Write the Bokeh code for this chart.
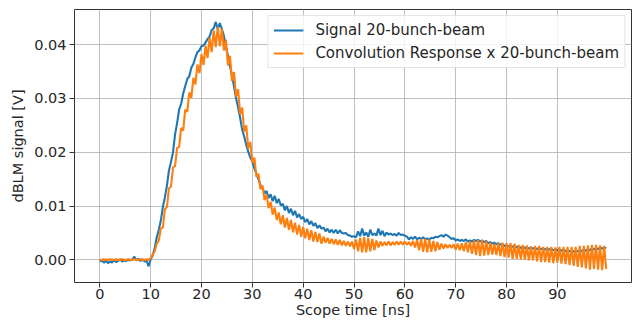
import numpy as np
from bokeh.plotting import figure
from bokeh.models import Range1d, FixedTicker, NumeralTickFormatter, Legend, LegendItem
from bokeh.embed import file_html
from bokeh.resources import INLINE

# ---- data ----
t_start_ns = 0.0
t_step_ns = 0.4   # scope sampling grid used for the readings

# Signal 20-bunch-beam, in mV (one row = 4 ns)
signal_mV = [
    -0.3, -0.1, -0.5, -0.2, -0.6, -0.3, -0.5, -0.1, -0.4, -0.2,
    0.1, -0.3, -0.1, -0.2, 0.0, -0.1, 0.1, 0.6, -0.1, 0.2,
    -0.2, 0.1, -0.3, -0.2, -1.2, 0.1, 0.8, 2.2, 4.2, 5.6,
    7.3, 9.8, 11.6, 13.8, 16.6, 18.2, 20.0, 23.3, 25.4, 27.9,
    29.0, 30.9, 32.3, 33.6, 34.1, 35.7, 36.4, 37.6, 38.6, 38.9,
    39.7, 39.8, 40.4, 41.0, 41.5, 42.7, 43.0, 44.2, 42.8, 44.0,
    42.9, 41.6, 39.6, 37.9, 36.0, 34.2, 32.2, 30.0, 28.3, 26.4,
    24.2, 22.9, 21.4, 20.1, 19.0, 18.3, 17.0, 16.0, 15.0, 13.9,
    13.4, 12.3, 12.8, 11.5, 12.2, 10.9, 11.9, 10.5, 11.3, 10.1,
    10.4, 9.2, 10.0, 8.7, 9.5, 8.3, 9.1, 7.9, 8.5, 7.6,
    8.0, 7.0, 7.6, 6.6, 7.2, 6.3, 6.8, 5.9, 6.4, 5.8,
    6.0, 5.3, 5.8, 5.1, 5.6, 5.0, 5.6, 4.9, 5.5, 5.0,
    4.9, 5.0, 4.6, 4.5, 4.3, 4.4, 4.2, 5.3, 4.4, 5.8,
    4.5, 5.1, 4.3, 5.6, 4.6, 4.9, 4.5, 5.8, 4.6, 5.4,
    4.4, 5.1, 4.7, 4.9, 4.6, 4.8, 4.5, 5.0, 4.6, 4.7,
    4.5, 4.3, 3.8, 4.2, 3.9, 4.3, 3.8, 4.1, 3.9, 4.2,
    3.8, 4.0, 3.7, 4.1, 4.0, 4.3, 4.2, 4.4, 4.6, 4.3,
    4.7, 4.5, 4.2, 3.9, 4.0, 3.6, 3.8, 3.5, 3.7, 3.5,
    3.8, 3.4, 3.6, 3.4, 3.7, 3.5, 3.7, 3.4, 3.6, 3.3,
    3.5, 3.1, 3.3, 3.0, 3.2, 2.9, 3.1, 2.8, 2.9, 2.6,
    2.7, 2.5, 2.6, 2.4, 2.6, 2.3, 2.5, 2.2, 2.4, 2.2,
    2.3, 2.1, 2.3, 2.1, 2.2, 2.0, 2.2, 2.0, 2.1, 1.9,
    2.1, 1.9, 2.0, 1.8, 2.0, 1.8, 1.9, 1.7, 1.9, 1.6,
    1.8, 1.6, 1.7, 1.5, 1.7, 1.6, 1.8, 1.6, 1.9, 1.7,
    2.0, 1.8, 2.1, 1.9, 2.2, 2.0, 2.3, 2.1, 2.3, 2.2,
]

# Convolution Response x 20-bunch-beam, in mV (one row = 4 ns)
conv_mV = [
    0.0, 0.0, 0.1, 0.0, 0.0, 0.1, 0.0, 0.0, 0.1, 0.0,
    0.0, 0.1, 0.0, 0.0, 0.1, 0.0, 0.0, 0.1, 0.0, 0.0,
    0.1, 0.0, 0.0, 0.1, 0.0, 0.3, 1.0, 1.6, 3.0, 3.6,
    5.8, 6.0, 9.4, 9.8, 13.3, 13.6, 17.2, 17.4, 20.8, 21.0,
    24.5, 24.0, 27.9, 27.5, 31.1, 30.1, 33.8, 32.6, 36.3, 34.7,
    38.2, 36.2, 39.8, 37.5, 41.3, 38.6, 42.6, 39.5, 43.3, 39.7,
    42.9, 38.9, 40.9, 36.1, 37.9, 33.2, 34.9, 30.3, 31.7, 27.1,
    28.3, 23.8, 25.0, 20.7, 21.9, 18.0, 19.0, 15.4, 16.0, 13.1,
    13.8, 11.1, 12.1, 9.6, 10.8, 8.4, 9.7, 7.4, 8.8, 6.6,
    8.3, 6.0, 7.8, 5.6, 7.4, 5.1, 6.9, 4.7, 6.5, 4.3,
    6.1, 4.0, 5.8, 3.7, 5.5, 3.4, 5.2, 3.3, 4.9, 3.0,
    4.3, 3.2, 4.1, 3.0, 3.9, 2.9, 3.8, 2.8, 3.7, 2.7,
    3.5, 2.6, 3.4, 2.5, 3.4, 2.0, 3.8, 1.6, 4.1, 1.4,
    4.2, 1.4, 4.1, 1.6, 3.9, 1.8, 3.6, 2.3, 3.4, 2.6,
    3.3, 2.7, 3.4, 2.7, 3.3, 2.8, 3.4, 2.8, 3.4, 2.8,
    3.4, 2.8, 3.3, 2.6, 3.5, 2.3, 3.7, 1.8, 3.9, 1.5,
    3.9, 1.4, 3.8, 1.5, 3.5, 1.6, 3.3, 1.9, 3.0, 2.1,
    2.9, 2.2, 2.8, 2.2, 2.9, 1.9, 3.0, 1.8, 3.1, 1.6,
    3.3, 1.4, 3.4, 1.1, 3.6, 0.9, 3.7, 0.7, 3.7, 0.8,
    3.5, 0.9, 3.2, 1.0, 3.0, 0.9, 3.1, 0.7, 3.2, 0.5,
    3.1, 0.4, 3.1, 0.2, 3.0, 0.2, 2.8, 0.1, 2.8, 0.0,
    2.7, -0.1, 2.5, -0.1, 2.6, -0.3, 2.6, -0.4, 2.4, -0.4,
    2.4, -0.5, 2.4, -0.6, 2.3, -0.5, 2.4, -0.7, 2.4, -0.8,
    2.4, -1.0, 2.4, -1.1, 2.4, -1.3, 2.6, -1.4, 2.6, -1.6,
    2.7, -1.8, 2.8, -1.7, 2.8, -1.8, 2.7, -1.9, 2.6, -1.7,
]

x_ticks = [0, 10, 20, 30, 40, 50, 60, 70, 80, 90]
y_ticks = [0.00, 0.01, 0.02, 0.03, 0.04]
signal_label = "Signal 20-bunch-beam"
conv_label = "Convolution Response x 20-bunch-beam"
x_label = "Scope time [ns]"
y_label = "dBLM signal [V]"

time_ns = t_start_ns + t_step_ns * np.arange(len(signal_mV))
signal_V = np.array(signal_mV) / 1000.0
conv_V = np.array(conv_mV) / 1000.0

# matplotlib-like 5% margins
xmin, xmax = time_ns.min(), time_ns.max()
ymin = min(signal_V.min(), conv_V.min())
ymax = max(signal_V.max(), conv_V.max())
xpad = 0.05 * (xmax - xmin)
ypad = 0.05 * (ymax - ymin)

FONT = "DejaVu Sans"
TXT = "#262626"
AX_FS = "14.5px"

p = figure(width=632, height=322, output_backend="svg", toolbar_location=None,
           x_range=Range1d(xmin - xpad, xmax + xpad),
           y_range=Range1d(ymin - ypad, ymax + ypad),
           min_border_left=74, min_border_right=1, min_border_top=9,
           min_border_bottom=40)

p.background_fill_color = "white"
p.border_fill_color = "white"
p.outline_line_color = "#333333"
p.outline_line_width = 1

r1 = p.line(time_ns, signal_V, line_color="#1f77b4", line_width=2.1)
r2 = p.line(time_ns, conv_V, line_color="#ff7f0e", line_width=2.1)

for ax in (p.xaxis, p.yaxis):
    ax.axis_line_color = None
    ax.major_tick_line_color = "#333333"
    ax.major_tick_line_width = 1
    ax.major_tick_out = 5
    ax.major_tick_in = 0
    ax.minor_tick_line_color = None
    ax.major_label_text_font = FONT
    ax.major_label_text_font_size = AX_FS
    ax.major_label_text_color = TXT
    ax.axis_label_text_font = FONT
    ax.axis_label_text_font_size = AX_FS
    ax.axis_label_text_font_style = "normal"
    ax.axis_label_text_color = TXT

p.xaxis.ticker = FixedTicker(ticks=x_ticks)
p.yaxis.ticker = FixedTicker(ticks=y_ticks)
p.yaxis.formatter = NumeralTickFormatter(format="0.00")
p.xaxis.axis_label = x_label
p.yaxis.axis_label = y_label
p.xaxis.major_label_standoff = 1
p.xaxis.axis_label_standoff = 0
p.yaxis.major_label_standoff = 3
p.yaxis.axis_label_standoff = 5

for g in (p.xgrid, p.ygrid):
    g.grid_line_color = "#b0b0b0"
    g.grid_line_width = 1
    g.grid_line_alpha = 0.8

legend = Legend(items=[LegendItem(label=signal_label, renderers=[r1]),
                       LegendItem(label=conv_label, renderers=[r2])],
                location="top_right")
legend.label_text_font = FONT
legend.label_text_font_size = "15px"
legend.label_text_color = TXT
legend.glyph_width = 30
legend.glyph_height = 18
legend.label_height = 18
legend.label_standoff = 12
legend.spacing = 5
legend.padding = 5
legend.margin = 6
legend.border_line_color = "#cccccc"
legend.border_line_width = 1
legend.background_fill_color = "white"
legend.background_fill_alpha = 0.8
p.add_layout(legend)

open("out.html", "w").write(file_html(p, INLINE))
